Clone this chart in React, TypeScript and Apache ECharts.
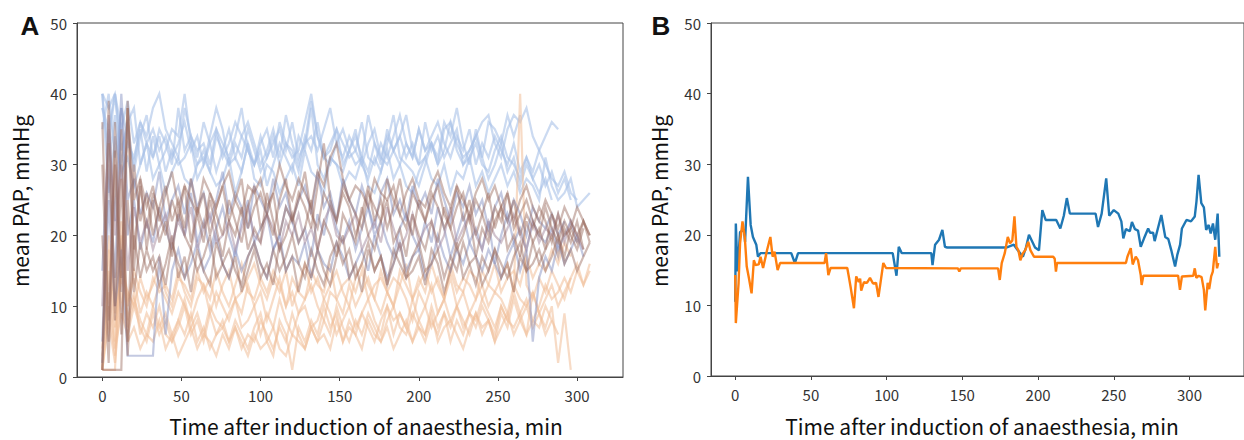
import React, { useEffect, useRef } from "react";
import * as echarts from "echarts";

// ---------- Panel A: individual patients (values every 4 min from t=0) ----------
const STEP_A = 4;
const LB1 = [40,38,40,35,39,33,36,34,38,40,35,33,31,38,34,32,33,30,35,33,31,34,38,32,30,33,35,31,36,33,32,29,33,39,34,31,32,35,33,31,32,36,31,30,33,31,34,37,33,31,35,32,33,30,32,36,33,31,32,34,36,37,33,31,35,37,36,38,34,32,34,36,35];
const LB2 = [40,30,37,28,33,31,35,29,34,30,32,35,34,40,33,30,31,29,34,32,30,33,31,35,32,29,31,34,30,33,31,32,36,40,34,31,30,33,35,32,30,31,29,33,31,30,32,34,37,32,30,31,33,30,35,36,32,30,31,33,30,29,32,34,31,30,28,31,29,32,30,28,27,29,26,25];
const LB3 = [38,35,40,32,36,38,30,33,31,34,29,32,30,31,33,28,30,34,38,35,30,31,29,33,30,32,27,30,33,31,29,34,32,38,30,28,31,30,29,32,35,30,28,31,29,33,37,31,30,29,27,30,33,31,36,34,38,33,30,35,31,36,35,33,37,34,37];
const LB4 = [40,26,34,29,31,27,30,33,28,30,26,29,31,28,27,30,32,29,27,28,31,26,29,33,28,27,30,29,26,28,30,27,32,29,28,26,31,30,27,29,28,31,27,26,29,32,28,30,27,26,29,31,28,27,30,26,29,28,31,27,29,26,28,30,27,29,26,28,27,25,31,27,25,26,28,24,25,26];
const LB5 = [35,40,31,38,34,30,36,33,35,32,34,31,33,36,32,34,30,33,35,31,33,36,34,32,30,34,31,33,35,32,36,31,33,34,32,35,38,33,31,34,32,30,33,35,31,34,32,30,33,31,35,32,34,36,33,31,34,32,35,30,33,31,34,32,30,33,29,31,28,30,27,29,26,28,25];
const LB6 = [38,33,40,30,36,29,34,37,31,35,33,30,38,32,34,31,36,33,29,32,35,31,34,36,33,30,32,35,31,37,33,30,34,32,36,31,33,35,30,32,34,31,37,33,30,35,32,34,31,33,30,36,32,34,31,33,35,30,32,34,31,28,30,33,29,31,27,30,28,26,28,25];
const GB1 = [5,30,14,38,20,25,18,22,19,24,21,18,23,20,26,19,22,18,21,24,20,17,22,25,19,21,23,18,20,24,22,19,21,17,23,20,25,21,19,22,18,21,24,20,22,19,17,21,23,20,18,22,19,24,21,17,20,23,19,21,18,22,16,20,23,19,21,18,22,20,19,21,18,20,22,19];
const GB2 = [2,25,10,18,3,3,3,3,3,17,6,15,18,14,16,19,15,17,20,16,14,18,15,17,19,16,14,18,20,15,17,16,19,14,18,16,15,19,17,14,16,18,15,20,17,14,16,19,15,17,18,14,16,20,17,15,18,16,19,17,15,18,16,14,17,19,15,18,5,14,17,15,19,16,18,20,17];
const GB3 = [15,35,22,40,25,28,23,26,24,29,22,25,27,23,28,24,26,22,25,29,23,26,24,21,27,25,23,28,24,26,22,25,27,23,29,24,26,22,28,25,23,27,24,21,26,28,23,25,22,27,24,26,23,28,25,22,26,24,27,23,25,21,24,26,22,25,23,20,24,22,21,23,20,22];
const DB1 = [1,39,10,35,5,30,22,26,20,24,27,22,25,21,28,23,26,20,24,27,22,25,28,21,24,26,23,20,25,28,22,26,24,21,27,33,25,22,26,24,20,23,27,22,25,21,24,28,23,20,25,22,26,24,21,23,27,22,25,20,23,26,21,24,22,25,20,23,21,24,22,19,23,20,21,24,22,20];
const DB2 = [1,1,1,1,38,15,28,18,25,19,22,17,24,20,18,23,19,25,21,17,22,20,24,18,21,19,26,22,18,20,23,19,21,25,18,22,20,17,23,21,19,24,20,18,22,25,19,21,17,23,20,18,22,19,24,21,18,20,23,17,21,19,22,24,18,20,17,22,19,21,18,23,20,17,21,19,22,20];
const DB3 = [36,8,32,12,39,18,27,21,26,23,20,25,22,27,19,24,21,26,23,20,25,22,19,24,27,21,23,26,20,24,22,25,29,23,21,26,24,22,27,25,23,21,26,24,22,28,25,23,21,26,24,22,25,27,23,21,24,26,22,25,23,20,24,22,26,21,23,25,22,20,24,21,19,22,20,18,21];
const DB4 = [1,33,8,28,3,20,14,18,15,17,13,19,16,14,18,15,17,20,14,16,18,15,13,17,19,16,14,18,15,17,20,16,14,18,15,13,17,19,16,18,14,16,19,15,17,13,18,16,14,17,19,15,16,18,14,17,15,19,16,13,17,15,18,16,14,17,19,15,16,18,15,17,20,16,18,15,17,19];
const DB5 = [30,5,36,14,38,25,28,24,27,22,26,29,24,27,25,23,28,26,24,27,29,25,23,27,26,28,24,26,30,27,25,28,26,24,29,27,31,33,28,25,27,26,24,28,26,25,27,23,26,28,25,24,27,29,26,24,27,25,23,26,28,25,27,24,26,22,25,27,24,22,25,23,21,24,22,20,22,19];
const DB6 = [20,2,30,6,25,12,19,15,17,13,16,20,14,17,12,18,15,13,19,16,14,17,12,15,18,14,16,13,19,15,17,12,16,14,18,15,13,17,20,14,16,12,18,15,17,13,16,19,14,15,17,13,18,16,12,15,19,14,16,17,13,15,18,14,16,12,17,15,19,16,18,20,17,21,19,22,18];
const MV1 = [10,37,20,30,15,24,19,22,18,21,23,19,22,20,24,18,21,23,19,20,22,18,21,24,20,19,23,21,18,22,20,23,19,21,18,22,24,20,19,21,23,18,20,22,19,24,21,18,20,23,19,21,22,18,20,24,19,21,23,20,18,22,20,19,21,23,20,18,22,19,21,20,23,19,22,20,18];
const PE1 = [1,1,1,20,8,12,6,9,7,10,6,5,8,6,9,5,7,4,6,8,5,7,4,6,5,8,6,4,7,5,9,6,4,7,5,8,6,10,7,5,8,6,9,7,5,8,10,7,6,9,7,5,8,6,9,7,10,8,6,9,7,8,6,10,8,7,9,6,8,7,10,8,6];
const PE2 = [1,15,5,22,10,14,9,12,10,13,11,9,12,10,8,11,13,9,12,10,8,11,9,13,10,12,8,11,14,10,12,9,11,13,10,8,12,11,9,13,10,12,14,11,9,12,10,13,11,8,12,10,13,9,11,14,10,12,9,11,13,10,12,11,9,13,11,10,12,9,11,13,10,12,14];
const PE3 = [3,12,4,9,6,10,7,5,9,6,8,5,7,10,6,8,5,9,6,7,5,8,6,4,7,9,5,3,8,6,1,7,5,8,6,10,7,9,5,8,6,9,7,5,8,10,6,9,7,5,8,6,10,7,9,5,8,6,9,7,10,8,5,9,7,11,8,6,12,9,7,10,2,9,1];
const PE4 = [2,18,7,14,11,15,12,10,14,12,13,11,15,12,10,14,13,11,15,12,10,13,16,12,11,14,12,15,13,10,14,12,11,15,13,12,16,11,13,14,12,15,11,13,14,12,10,15,13,11,14,12,16,13,11,15,12,14,13,11,15,13,12,14,16,12,40,13,11,14,12,15,13,11,14,16,13,15];
const PE5 = [1,10,3,17,7,11,8,6,10,7,9,6,8,11,7,9,6,10,8,7,9,11,7,8,10,6,9,7,11,8,6,9,10,7,8,11,9,6,8,10,7,9,11,8,6,10,8,9,7,11,8,10,7,9,11,8,10,7,9,8,11,9,7,10,8,12,9,11,8,10,13,11,12,14,12,15,13,16];
const PE6 = [1,8,2,12,5,7,4,6,5,8,4,6,3,5,7,4,6,5,3,6,4,7,5,3,6,4,5,7,4,3,6,5,4,7,5,6,4,8,5,7,6,4,8,6,5,7,4,6,8,5,7,6,9,5,7,8,6,4,7,9,6,8,5,7,9,6,8,10,7,9,6,8];
const PE7 = [4,20,9,15,12,10,14,11,13,16,12,10,14,13,11,15,12,14,10,13,15,11,12,14,16,13,11,14,12,15,10,13,16,12,14,11,13,15,12,10,14,16,13,11,15,12,14,13,16,11,13,15,12,14,11,16,13,12,15,14,11,13,16,12,14,15,13,17,14,16,15,18,16,19,17];

// ---------- Panel B: two patients, [time (min), mean PAP (mmHg)] ----------
const B_BLUE: number[][] = [[0,10.5],[0.4,21.6],[1.5,14.8],[3.2,20.4],[5.8,20.7],[6.5,19],[8.4,28.2],[10.2,21.4],[11.7,19.7],[13.9,18.6],[15,16.9],[16.7,17.4],[37,17.4],[39.4,16.0],[41.5,17.4],[104,17.4],[106.5,14.2],[108,18.3],[110,17.4],[129.5,17.4],[130.3,15.7],[132,18.6],[134.6,19.3],[136.8,20.7],[138.5,18.3],[140,18.2],[179,18.2],[184,18.6],[187,17.7],[190,16.9],[192,18.2],[194,20],[198,18.2],[200.6,17.8],[202.8,23.5],[205,22.1],[212,22.1],[214.7,20.9],[217,22.7],[219,25.2],[221,23.0],[238,23.0],[239.6,21.1],[242,23],[245,28.0],[247,22.7],[250,23.5],[253,23],[255,21.9],[256.3,19.5],[258,20.8],[260.6,20.5],[262,21.8],[264,20.8],[266,20.6],[267.8,18.3],[270,19.5],[272.7,20.9],[274,20.3],[276,20.3],[277,19.1],[281.4,22.8],[284,19.7],[286,19.4],[288,17.8],[290.5,15.5],[292,17.2],[293.8,18.6],[295,20.9],[298,22.1],[301,21.9],[303.5,22.6],[304.6,24.7],[306,28.5],[307.8,24.5],[309.5,23.9],[311,20.7],[312.7,21.4],[314,20.2],[315.5,21.6],[317,19.3],[318.6,23.0],[319.7,16.9]];
const B_ORANGE: number[][] = [[0,14.3],[0.4,7.5],[2.2,13.1],[3.2,18.8],[4.8,21.9],[6.3,19.7],[7.6,15.5],[9.1,13.8],[10.8,11.7],[12.3,16.4],[13.4,15.7],[15.5,15.8],[16.7,16.9],[18.4,15.3],[21,17.8],[23.2,19.7],[24.7,16.9],[26,17.6],[28,15.0],[29.6,16.0],[59,16.0],[60,17.4],[61.5,14.3],[63,15.3],[74,15.3],[75,14.1],[76.2,12.6],[78.4,9.6],[79.9,14.1],[81.6,13.3],[82.5,13.8],[83.2,12.1],[85,13.3],[87,13.2],[89,13.9],[91,13.1],[93,13.2],[94.6,11.2],[96,13.3],[97.8,16.0],[99.6,15.3],[147,15.25],[148,14.8],[149,15.25],[173.6,15.25],[174.7,13.6],[176,16.0],[178,17.4],[180,19.7],[181.5,18.8],[183,19.2],[184.4,22.6],[185.7,18.3],[187,17.8],[188.3,16.4],[190,17.4],[191.5,17.8],[193.5,19],[195,17.8],[197.3,16.9],[210,16.9],[211,16.6],[211.8,14.8],[212.5,16.0],[258,16.0],[259,16.9],[261.2,18.1],[262.5,15.8],[264.5,16.9],[266,16.4],[267.8,14.3],[268.4,12.9],[269.5,14.2],[292.5,14.2],[293.7,12.2],[295,14.1],[302.5,14.2],[303.5,15.25],[304.5,13.9],[306,14.2],[308,14.0],[309.5,12.2],[310.4,9.3],[312,13.2],[313,12.3],[314.3,14.1],[315.4,14.8],[317,18.3],[318.2,15.25],[319,16.0]];

const X_TICKS = [0, 50, 100, 150, 200, 250, 300];
const X_TITLE = "Time after induction of anaesthesia, min";
const Y_TITLE = "mean PAP, mmHg";

const BLUE_LIGHT = "rgba(168,193,232,0.6)";
const GREY_BLUE = "rgba(135,148,195,0.5)";
const BROWN = "rgba(150,102,88,0.45)";
const MAUVE = "rgba(165,138,158,0.5)";
const PEACH = "rgba(240,190,152,0.55)";

const PANEL_A = [
  { d: LB1, c: BLUE_LIGHT }, { d: LB2, c: BLUE_LIGHT }, { d: LB3, c: BLUE_LIGHT },
  { d: LB4, c: BLUE_LIGHT }, { d: LB5, c: BLUE_LIGHT }, { d: LB6, c: BLUE_LIGHT },
  { d: PE1, c: PEACH }, { d: PE2, c: PEACH }, { d: PE3, c: PEACH }, { d: PE4, c: PEACH },
  { d: PE5, c: PEACH }, { d: PE6, c: PEACH }, { d: PE7, c: PEACH },
  { d: GB1, c: GREY_BLUE }, { d: GB2, c: GREY_BLUE }, { d: GB3, c: GREY_BLUE }, { d: MV1, c: MAUVE },
  { d: DB1, c: BROWN }, { d: DB2, c: BROWN }, { d: DB3, c: BROWN }, { d: DB4, c: BROWN },
  { d: DB5, c: BROWN }, { d: DB6, c: BROWN },
];

const FONT = '"Noto Sans CJK JP", "Noto Sans", sans-serif';

export default function App() {
  const ref = useRef<HTMLDivElement>(null);
  useEffect(() => {
    if (!ref.current) return;
    const chart = echarts.init(ref.current, null, { renderer: "svg" });
    const axisLine = { show: true, onZero: false, lineStyle: { color: "#444", width: 1 } };
    const axisTick = { show: true, inside: false, length: 4, lineStyle: { color: "#444" } };
    const axisLabel = { color: "#333", fontSize: 15, fontFamily: FONT, margin: 10 };
    const xAxis = (gi: number, min: number, max: number) => ({
      type: "value", gridIndex: gi, min, max,
      axisLine, axisTick: { ...axisTick, customValues: X_TICKS },
      axisLabel: { ...axisLabel, customValues: X_TICKS, margin: 11 },
      splitLine: { show: false },
    });
    const yAxis = (gi: number) => ({
      type: "value", gridIndex: gi, min: 0, max: 50, interval: 10,
      axisLine, axisTick, axisLabel, splitLine: { show: false },
    });
    const seriesA = PANEL_A.map((s) => ({
      type: "line", xAxisIndex: 0, yAxisIndex: 0, showSymbol: false, symbol: "none",
      data: s.d.map((v, i) => [i * STEP_A, v]),
      lineStyle: { color: s.c, width: 2.2, join: "miter" }, itemStyle: { color: s.c },
      silent: true,
    }));
    const seriesB = [
      { d: B_BLUE, c: "#1f77b4" },
      { d: B_ORANGE, c: "#ff7f0e" },
    ].map((s) => ({
      type: "line", xAxisIndex: 1, yAxisIndex: 1, showSymbol: false, symbol: "none",
      data: s.d, lineStyle: { color: s.c, width: 2.4 }, itemStyle: { color: s.c }, silent: true,
    }));
    const text = (t: string, x: number, y: number, font: string, rot = 0) => ({
      type: "text", x, y, rotation: rot,
      style: { text: t, font, fill: "#111", textAlign: "center", textVerticalAlign: "middle", verticalAlign: "middle" },
    });
    chart.setOption({
      animation: false,
      grid: [
        { left: 77, top: 23, width: 546, height: 354, show: true, borderColor: "#444", borderWidth: 1 },
        { left: 711, top: 23, width: 542, height: 353, show: true, borderColor: "#444", borderWidth: 1 },
      ],
      xAxis: [xAxis(0, -16, 329), xAxis(1, -16, 336)],
      yAxis: [yAxis(0), yAxis(1)],
      series: [...seriesA, ...seriesB],
      graphic: [
        text("A", 30, 26, 'bold 26px "Liberation Sans", sans-serif'),
        text("B", 661, 26, 'bold 26px "Liberation Sans", sans-serif'),
        text(X_TITLE, 366, 426, `21px ${FONT}`),
        text(X_TITLE, 982, 426, `21px ${FONT}`),
        text(Y_TITLE, 20, 201, `21px ${FONT}`, Math.PI / 2),
        text(Y_TITLE, 659, 201, `21px ${FONT}`, Math.PI / 2),
      ],
    });
    return () => chart.dispose();
  }, []);
  return <div ref={ref} style={{ position: "fixed", left: 0, top: 0, width: 1244, height: 440, background: "#fff" }} />;
}
